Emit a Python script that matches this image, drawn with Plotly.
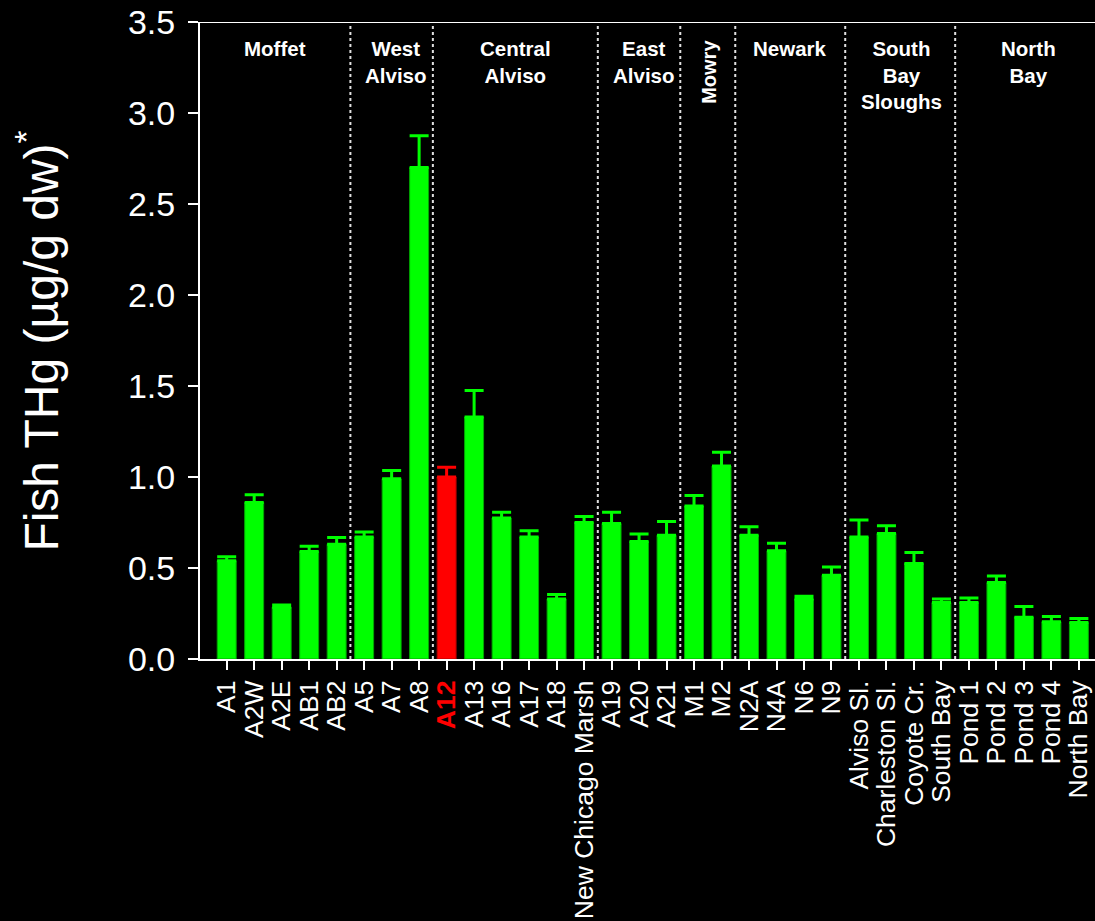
import plotly.graph_objects as go

# Sampling sites, in plotting order
sites = ["A1", "A2W", "A2E", "AB1", "AB2",
         "A5", "A7", "A8",
         "A12", "A13", "A16", "A17", "A18", "New Chicago Marsh",
         "A19", "A20", "A21",
         "M1", "M2",
         "N2A", "N4A", "N6", "N9",
         "Alviso Sl.", "Charleston Sl.", "Coyote Cr.", "South Bay",
         "Pond 1", "Pond 2", "Pond 3", "Pond 4", "North Bay"]

# Mean fish total mercury (ug/g dry weight) and standard error
thg_mean = [0.54, 0.86, 0.285, 0.59, 0.63,
            0.67, 0.99, 2.70,
            1.00, 1.33, 0.775, 0.67, 0.33, 0.75,
            0.745, 0.645, 0.68,
            0.84, 1.06,
            0.68, 0.595, 0.33, 0.46,
            0.67, 0.69, 0.525, 0.31,
            0.31, 0.42, 0.23, 0.205, 0.20]
thg_se = [0.022, 0.042, 0.012, 0.03, 0.037,
          0.028, 0.046, 0.175,
          0.053, 0.145, 0.031, 0.035, 0.025, 0.033,
          0.062, 0.042, 0.076,
          0.058, 0.076,
          0.046, 0.041, 0.015, 0.046,
          0.094, 0.042, 0.06, 0.019,
          0.025, 0.036, 0.058, 0.029, 0.022]

# Site groups (label, number of sites)
group_names = ["Moffet", "West<br>Alviso", "Central<br>Alviso", "East<br>Alviso",
               "Mowry", "Newark", "South<br>Bay<br>Sloughs", "North<br>Bay"]
group_sizes = [5, 3, 6, 3, 2, 4, 4, 5]
# fine horizontal nudges (px) for the group labels
group_label_shift = [-7, 4, 0, 5, 0, 0, 1, 5]

highlight = "A12"

GREEN = "#00ff00"
RED = "#ff0000"
FONT = "Liberation Sans, Arial, sans-serif"

idx = list(range(len(sites)))


def bar_trace(keep, color, edge):
    xs = [i for i in idx if keep(sites[i])]
    return go.Bar(
        x=xs,
        y=[thg_mean[i] for i in xs],
        width=0.69,
        marker=dict(color=color, line=dict(color=edge, width=1)),
        error_y=dict(type="data", symmetric=False,
                     array=[thg_se[i] for i in xs],
                     arrayminus=[0] * len(xs),
                     color=color, thickness=3, width=9.5),
        showlegend=False,
    )


fig = go.Figure()
fig.add_trace(bar_trace(lambda s: s != highlight, GREEN, "#00a800"))
fig.add_trace(bar_trace(lambda s: s == highlight, RED, "#b00000"))

ticktext = [f"<b><span style='color:{RED}'>{s}</span></b>" if s == highlight else s
            for s in sites]

fig.update_layout(
    width=1095, height=921,
    margin=dict(l=200, r=0, t=22, b=262),
    paper_bgcolor="black", plot_bgcolor="black",
    font=dict(family=FONT, color="white"),
    barmode="overlay",
    xaxis=dict(
        range=[-0.971, 31.586],
        tickmode="array", tickvals=idx, ticktext=ticktext,
        tickangle=-90, tickfont=dict(size=26.5, color="white"),
        showline=True, linecolor="white", linewidth=2,
        ticks="outside", ticklen=9, tickwidth=2, tickcolor="white",
        showgrid=False, zeroline=False,
    ),
    yaxis=dict(
        range=[0, 3.5], dtick=0.5, tickformat=".1f",
        tickfont=dict(size=34, color="white"),
        ticklabelstandoff=6,
        showline=True, linecolor="white", linewidth=2,
        ticks="outside", ticklen=10, tickwidth=2, tickcolor="white",
        showgrid=False, zeroline=False,
    ),
)

# Frame line across the top of the plot
fig.add_shape(type="line", xref="paper", yref="y", x0=0, x1=1, y0=3.5, y1=3.5,
              line=dict(color="white", width=2))

# Group separators and group labels
start = 0
for k, (name, n) in enumerate(zip(group_names, group_sizes)):
    center = start + (n - 1) / 2
    if name == "Mowry":
        fig.add_annotation(x=center, y=3.225, xref="x", yref="y", text=f"<b>{name}</b>",
                           textangle=-90, showarrow=False, xshift=1,
                           font=dict(size=20, color="white", family=FONT))
    else:
        fig.add_annotation(x=center, y=3.43, xref="x", yref="y", text=f"<b>{name}</b>",
                           yanchor="top", showarrow=False,
                           xshift=group_label_shift[k],
                           font=dict(size=20.5, color="white", family=FONT))
    start += n
    if k < len(group_sizes) - 1:
        fig.add_shape(type="line", xref="x", yref="y", x0=start - 0.5, x1=start - 0.5,
                      y0=0, y1=3.5, line=dict(color="#e0e0e0", width=2, dash="dot"),
                      layer="below")

# Y-axis title
fig.add_annotation(x=-0.182, y=0.5, xref="paper", yref="paper",
                   xanchor="center", yanchor="middle", yshift=-1,
                   text="Fish THg (µg/g dw)<sup>*</sup>", textangle=-90,
                   showarrow=False, font=dict(size=48, color="white", family=FONT))

fig.write_html("out.html")
